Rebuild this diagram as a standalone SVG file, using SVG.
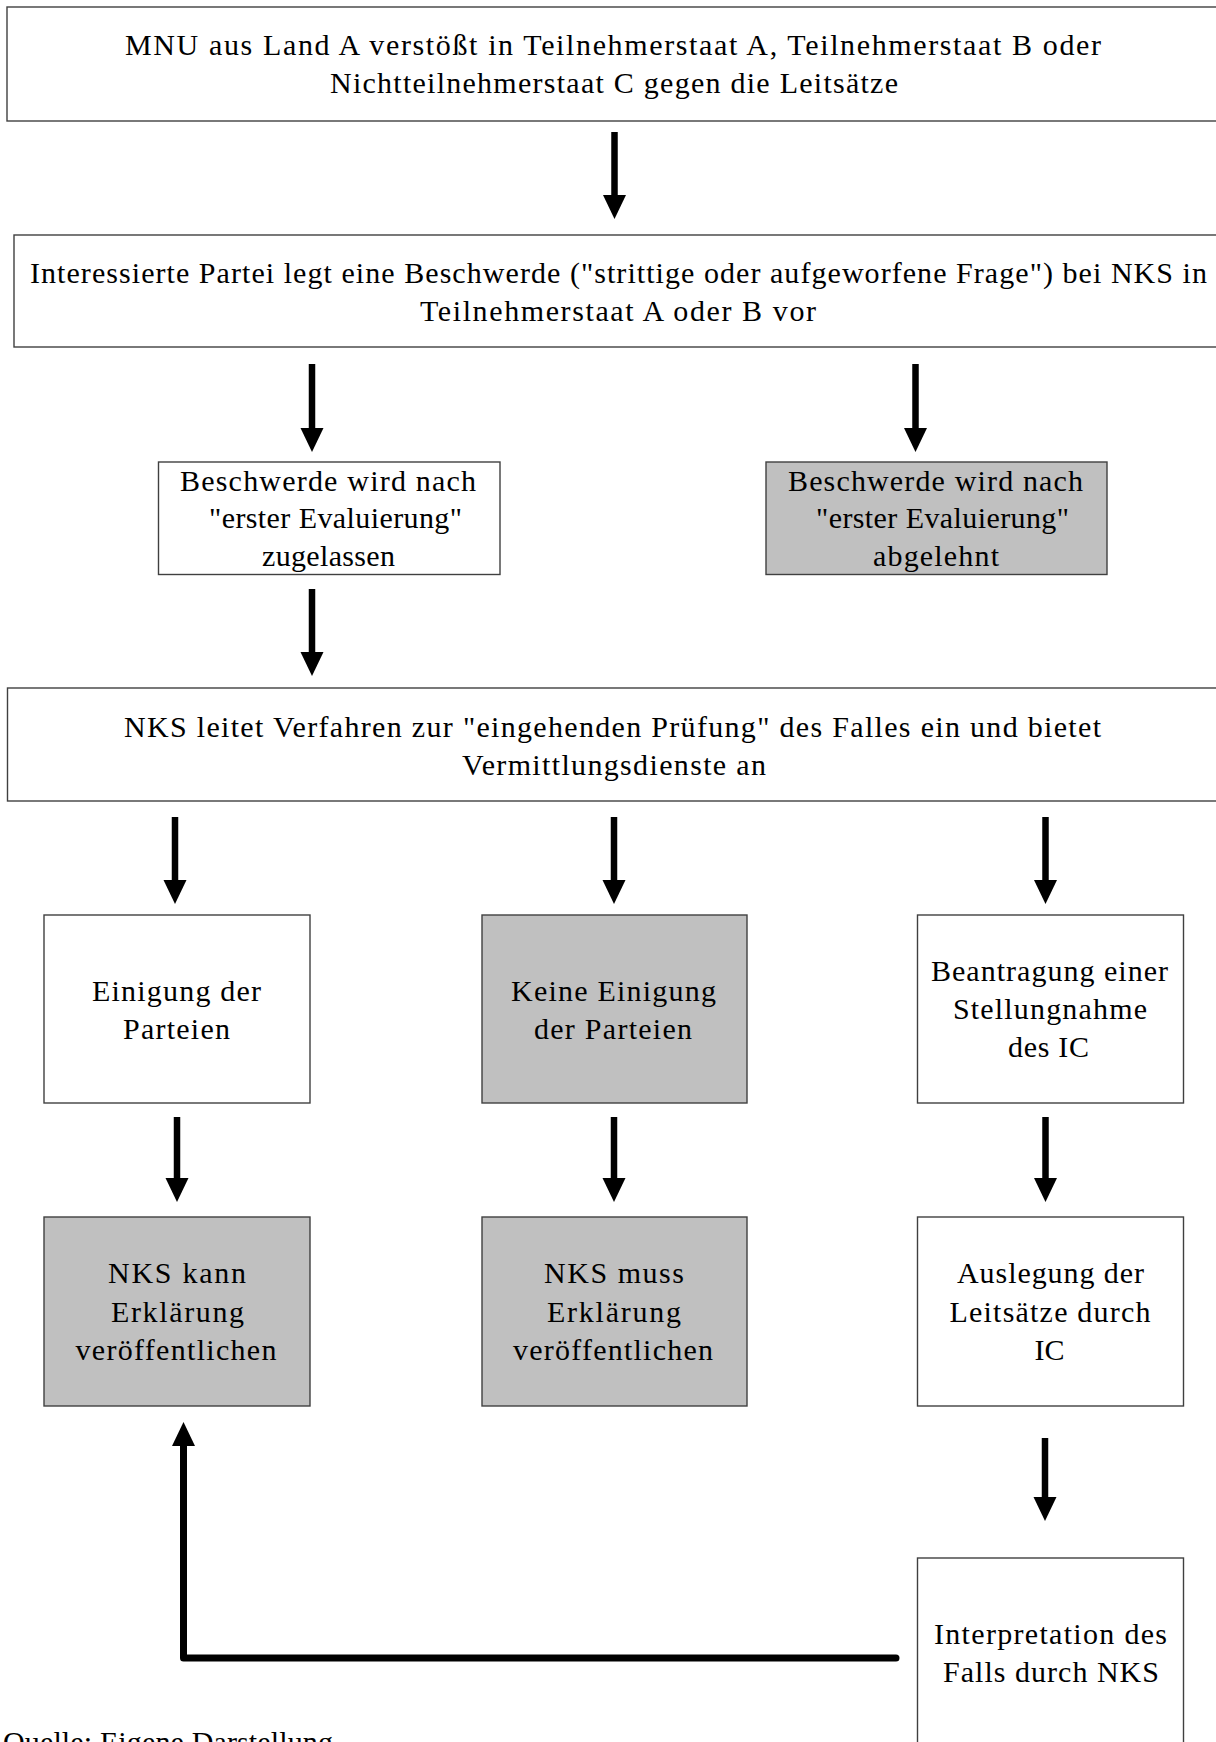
<svg xmlns="http://www.w3.org/2000/svg" width="1216" height="1742" viewBox="0 0 1216 1742">
<style>
.box{fill:#ffffff;stroke:#404040;stroke-width:1.4}
.grey{fill:#c0c0c0;stroke:#404040;stroke-width:1.4}
text{font-family:"Liberation Serif","Times New Roman",serif;font-size:30px;fill:#000}
.arr{stroke:#000;stroke-width:6.5;fill:none}
.fb{stroke:#000;stroke-width:7;fill:none;stroke-linecap:round;stroke-linejoin:round}
</style>
<defs>
<marker id="ah" markerUnits="userSpaceOnUse" markerWidth="24" markerHeight="24" refX="0" refY="11.5" orient="auto" overflow="visible">
<path d="M0,0 L24,11.5 L0,23 Z" fill="#000"/>
</marker>
</defs>
<rect width="1216" height="1742" fill="#fff"/>

<g id="n1">
<rect class="box" x="7" y="7" width="1230" height="114"/>
<text x="125" y="55" textLength="976" lengthAdjust="spacing">MNU aus Land A verstößt in Teilnehmerstaat A, Teilnehmerstaat B oder</text>
<text x="330" y="93" textLength="568" lengthAdjust="spacing">Nichtteilnehmerstaat C gegen die Leitsätze</text>
</g>
<g id="n2">
<rect class="box" x="14" y="235" width="1230" height="112"/>
<text x="30" y="282.5" textLength="1177" lengthAdjust="spacing">Interessierte Partei legt eine Beschwerde ("strittige oder aufgeworfene Frage") bei NKS in</text>
<text x="420" y="320.5" textLength="396" lengthAdjust="spacing">Teilnehmerstaat A oder B vor</text>
</g>
<g id="n3">
<rect class="box" x="158.5" y="462" width="341.5" height="112.5"/>
<text x="180" y="490.5" textLength="296" lengthAdjust="spacing">Beschwerde wird nach</text>
<text x="209" y="528" textLength="253" lengthAdjust="spacing">"erster Evaluierung"</text>
<text x="262" y="565.5" textLength="133" lengthAdjust="spacing">zugelassen</text>
</g>
<g id="n4">
<rect class="grey" x="766" y="462" width="341" height="112.5"/>
<text x="788" y="490.5" textLength="295" lengthAdjust="spacing">Beschwerde wird nach</text>
<text x="816" y="528" textLength="253" lengthAdjust="spacing">"erster Evaluierung"</text>
<text x="873" y="565.5" textLength="126" lengthAdjust="spacing">abgelehnt</text>
</g>
<g id="n5">
<rect class="box" x="7.5" y="688" width="1230" height="113"/>
<text x="124" y="736.5" textLength="977" lengthAdjust="spacing">NKS leitet Verfahren zur "eingehenden Prüfung" des Falles ein und bietet</text>
<text x="462" y="774.5" textLength="304" lengthAdjust="spacing">Vermittlungsdienste an</text>
</g>
<g id="n6">
<rect class="box" x="44" y="915" width="266" height="188"/>
<text x="92" y="1001" textLength="169" lengthAdjust="spacing">Einigung der</text>
<text x="123" y="1039" textLength="107" lengthAdjust="spacing">Parteien</text>
</g>
<g id="n7">
<rect class="grey" x="482" y="915" width="265" height="188"/>
<text x="511" y="1001" textLength="205" lengthAdjust="spacing">Keine Einigung</text>
<text x="534" y="1039" textLength="158" lengthAdjust="spacing">der Parteien</text>
</g>
<g id="n8">
<rect class="box" x="917.5" y="915" width="266" height="188"/>
<text x="931" y="981" textLength="237" lengthAdjust="spacing">Beantragung einer</text>
<text x="953" y="1019" textLength="194" lengthAdjust="spacing">Stellungnahme</text>
<text x="1008" y="1057" textLength="81" lengthAdjust="spacing">des IC</text>
</g>
<g id="n9">
<rect class="grey" x="44" y="1217" width="266" height="189"/>
<text x="108" y="1283" textLength="138" lengthAdjust="spacing">NKS kann</text>
<text x="111" y="1322" textLength="133" lengthAdjust="spacing">Erklärung</text>
<text x="75.5" y="1360" textLength="201" lengthAdjust="spacing">veröffentlichen</text>
</g>
<g id="n10">
<rect class="grey" x="482" y="1217" width="265" height="189"/>
<text x="544" y="1283" textLength="140" lengthAdjust="spacing">NKS muss</text>
<text x="547" y="1322" textLength="134" lengthAdjust="spacing">Erklärung</text>
<text x="513" y="1360" textLength="200" lengthAdjust="spacing">veröffentlichen</text>
</g>
<g id="n11">
<rect class="box" x="917.5" y="1217" width="266" height="189"/>
<text x="957" y="1283" textLength="187" lengthAdjust="spacing">Auslegung der</text>
<text x="949.5" y="1322" textLength="201" lengthAdjust="spacing">Leitsätze durch</text>
<text x="1049.5" y="1360" text-anchor="middle">IC</text>
</g>
<g id="n12">
<rect class="box" x="917.5" y="1558" width="266" height="200"/>
<text x="934" y="1644" textLength="233" lengthAdjust="spacing">Interpretation des</text>
<text x="943" y="1682" textLength="216" lengthAdjust="spacing">Falls durch NKS</text>
</g>

<g id="connectors">
<line class="arr" x1="614.5" y1="132" x2="614.5" y2="195" marker-end="url(#ah)"/>
<line class="arr" x1="312" y1="364" x2="312" y2="428" marker-end="url(#ah)"/>
<line class="arr" x1="915.5" y1="364" x2="915.5" y2="428" marker-end="url(#ah)"/>
<line class="arr" x1="312" y1="589" x2="312" y2="652" marker-end="url(#ah)"/>
<line class="arr" x1="175" y1="817" x2="175" y2="880" marker-end="url(#ah)"/>
<line class="arr" x1="614" y1="817" x2="614" y2="880" marker-end="url(#ah)"/>
<line class="arr" x1="1045.5" y1="817" x2="1045.5" y2="880" marker-end="url(#ah)"/>
<line class="arr" x1="177" y1="1117" x2="177" y2="1178" marker-end="url(#ah)"/>
<line class="arr" x1="614" y1="1117" x2="614" y2="1178" marker-end="url(#ah)"/>
<line class="arr" x1="1045.5" y1="1117" x2="1045.5" y2="1178" marker-end="url(#ah)"/>
<line class="arr" x1="1045" y1="1438" x2="1045" y2="1497" marker-end="url(#ah)"/>
<path class="fb" d="M896,1658 H183.5 V1446" marker-end="url(#ah)"/>
</g>

<text x="3" y="1752" textLength="330" lengthAdjust="spacing">Quelle: Eigene Darstellung</text>
</svg>
